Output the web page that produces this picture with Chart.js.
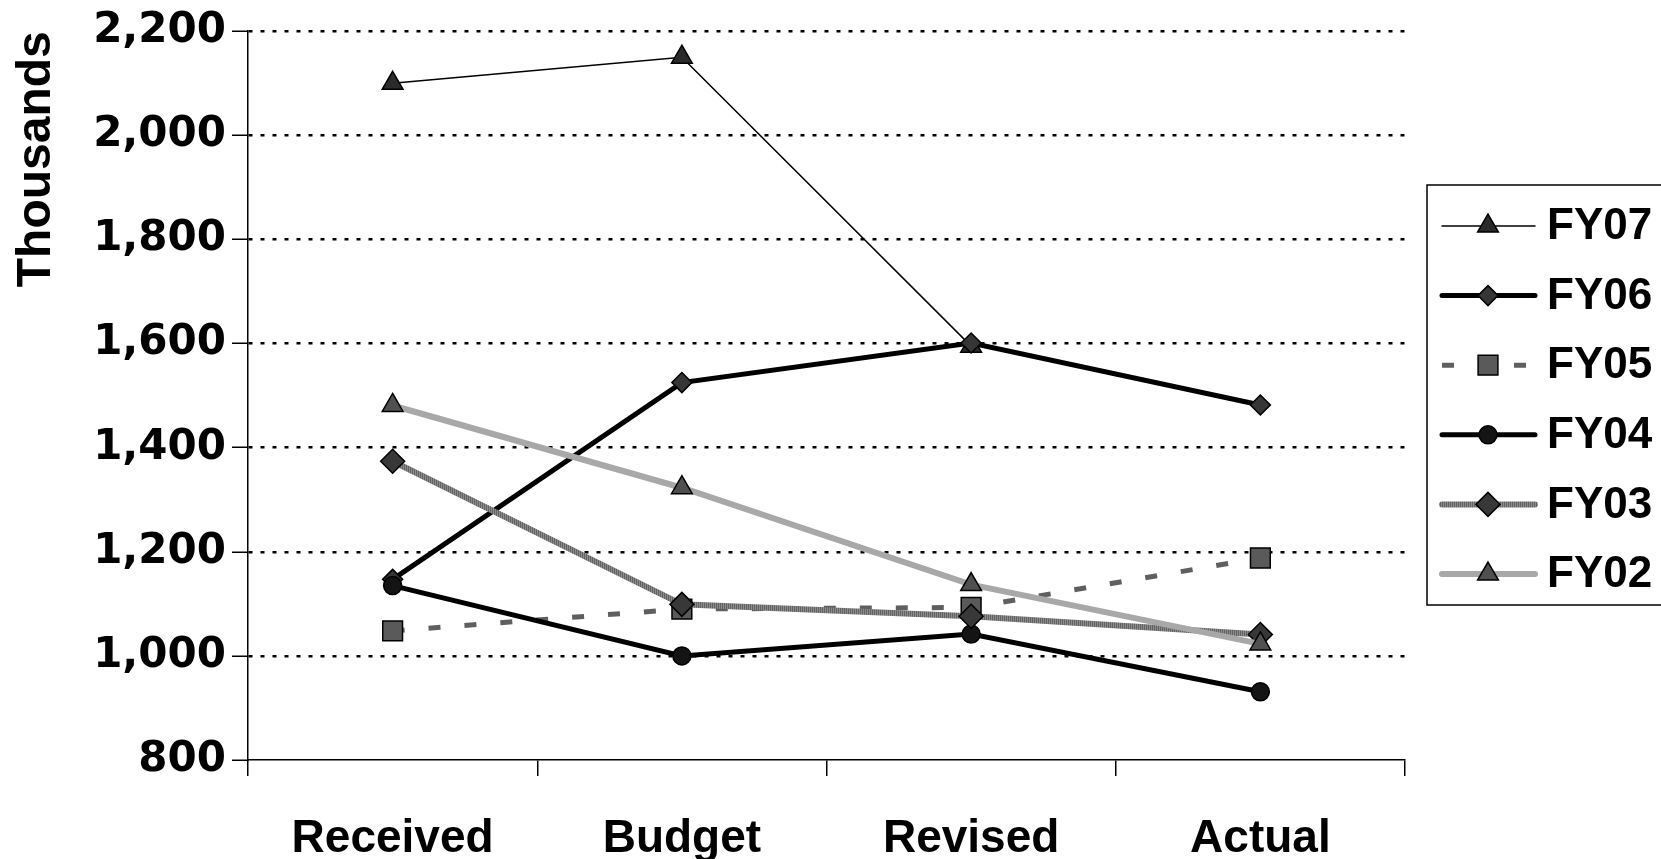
<!DOCTYPE html>
<html>
<head>
<meta charset="utf-8">
<script src="https://cdn.jsdelivr.net/npm/chart.js@4/dist/chart.umd.min.js"></script>
<style>
  html, body { margin: 0; padding: 0; background: #fff; }
  #wrap { width: 1661px; height: 859px; position: relative; }
</style>
</head>
<body>
<div id="wrap"><canvas id="budgetChart"></canvas></div>
<script>
// categories and series (thousands)
const categories = ['Received', 'Budget', 'Revised', 'Actual'];
const fy07 = [2100, 2150, 1595, null];
const fy06 = [1147, 1525, 1601, 1482];
const fy05 = [1048, 1090, 1093, 1188];
const fy04 = [1135, 1000, 1042, 931];
const fy03 = [1374, 1099, 1076, 1041];
const fy02 = [1481, 1323, 1137, 1023];
const yTicks = [800, 1000, 1200, 1400, 1600, 1800, 2000, 2200];

// hatched grey used for the FY03 line
function hatch() {
    const c = document.createElement('canvas');
    c.width = 2; c.height = 2;
    const g = c.getContext('2d');
    g.fillStyle = '#8c8c8c';
    g.fillRect(0, 0, 2, 2);
    g.fillStyle = '#626262';
    g.fillRect(0, 0, 1, 2);
    return g.createPattern(c, 'repeat');
}

const series = [
    { label: 'FY07', data: fy07, color: '#000', width: 1.5, dash: [], point: 'triangle', r: 12, fill: '#2b2b2b' },
    { label: 'FY06', data: fy06, color: '#000', width: 5, dash: [], point: 'rectRot', r: 10, fill: '#363636' },
    { label: 'FY05', data: fy05, color: '#5f5f5f', width: 5, dash: [12, 24], point: 'rect', r: 14, fill: '#5a5a5a' },
    { label: 'FY04', data: fy04, color: '#000', width: 5, dash: [], point: 'circle', r: 9, fill: '#141414' },
    { label: 'FY03', data: fy03, color: hatch(), width: 6, dash: [], point: 'rectRot', r: 12, fill: '#383838' },
    { label: 'FY02', data: fy02, color: '#a8a8a8', width: 6, dash: [], point: 'triangle', r: 12, fill: '#505050' }
];

// boxed legend with line + marker samples, drawn right of the plot
const boxedLegend = {
    id: 'boxedLegend',
    afterDraw(chart) {
        const ctx = chart.ctx;
        const left = chart.chartArea.right + 22;
        const top = 185, height = 420;
        ctx.save();
        ctx.strokeStyle = '#000';
        ctx.lineWidth = 1.5;
        ctx.strokeRect(left, top, 300, height);
        series.forEach((s, i) => {
            const y = 226 + i * 69.6;
            const x0 = left + 15, x1 = left + 108, xm = left + 61;
            ctx.save();
            ctx.strokeStyle = s.color;
            ctx.lineWidth = s.width;
            ctx.lineCap = s.dash.length ? 'butt' : 'round';
            ctx.setLineDash(s.dash);
            ctx.beginPath();
            ctx.moveTo(x0, y);
            ctx.lineTo(x1, y);
            ctx.stroke();
            ctx.restore();
            ctx.save();
            ctx.fillStyle = s.fill;
            ctx.strokeStyle = '#000';
            ctx.lineWidth = 1.5;
            Chart.helpers.drawPoint(ctx, { pointStyle: s.point, radius: s.r, rotation: 0, borderWidth: 1.5 }, xm, y);
            ctx.restore();
            ctx.fillStyle = '#000';
            ctx.font = 'bold 44px "Liberation Sans", Arial, sans-serif';
            ctx.textBaseline = 'middle';
            ctx.textAlign = 'left';
            ctx.fillText(s.label, left + 120, y + 1);
        });
        ctx.restore();
    }
};

const ctx = document.getElementById('budgetChart').getContext('2d');
new Chart(ctx, {
    type: 'line',
    data: {
        labels: categories,
        datasets: series.map((s, i) => ({
            label: s.label,
            data: s.data,
            order: series.length - i,
            borderColor: s.color,
            borderWidth: s.width,
            borderDash: s.dash,
            borderCapStyle: 'butt',
            tension: 0,
            fill: false,
            pointStyle: s.point,
            pointRadius: s.r,
            pointHoverRadius: s.r,
            pointBackgroundColor: s.fill,
            pointBorderColor: '#000',
            pointBorderWidth: 1.5
        }))
    },
    options: {
        responsive: true,
        maintainAspectRatio: false,
        animation: false,
        devicePixelRatio: 1,
        locale: 'en-US',
        layout: { padding: { top: 31, right: 256, bottom: 0, left: 0 } },
        plugins: {
            legend: { display: false },
            tooltip: { enabled: false }
        },
        scales: {
            x: {
                offset: true,
                afterFit: scale => { scale.height = 99; },
                grid: {
                    offset: true,
                    drawOnChartArea: false,
                    tickLength: 16,
                    color: '#000',
                    lineWidth: 1.5
                },
                border: { color: '#000', width: 1.5 },
                ticks: {
                    color: '#000',
                    padding: 36,
                    font: { family: '"Liberation Sans", Arial, sans-serif', size: 46, weight: 'bold' }
                }
            },
            y: {
                min: yTicks[0],
                max: yTicks[yTicks.length - 1],
                afterFit: scale => { scale.width = 248; },
                afterBuildTicks: scale => { scale.ticks = yTicks.map(v => ({ value: v })); },
                grid: {
                    color: c => (c.tick && c.tick.value === yTicks[0]) ? 'rgba(0,0,0,0)' : '#000',
                    lineWidth: 2.5,
                    tickLength: 16,
                    tickColor: '#000',
                    tickWidth: 1.5
                },
                border: { color: '#000', width: 1.5, dash: [4, 8] },
                ticks: {
                    color: '#000',
                    padding: 6,
                    font: { family: '"DejaVu Sans", sans-serif', size: 42, weight: 'bold' }
                },
                title: {
                    display: true,
                    text: 'Thousands',
                    align: 'end',
                    color: '#000',
                    padding: { top: 8, bottom: 0 },
                    font: { family: '"Liberation Sans", Arial, sans-serif', size: 48, weight: 'bold' }
                }
            }
        }
    },
    plugins: [boxedLegend]
});
</script>
</body>
</html>
